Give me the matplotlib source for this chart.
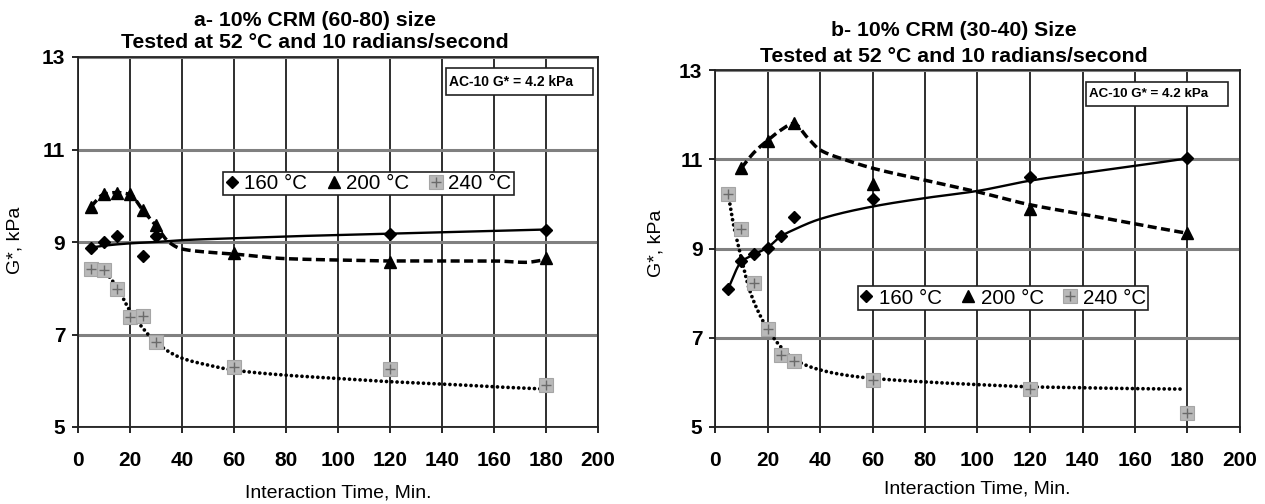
import numpy as np
import matplotlib
matplotlib.use("Agg")
import matplotlib.pyplot as plt
from matplotlib.lines import Line2D
from matplotlib.patches import Rectangle
from matplotlib.legend_handler import HandlerTuple

plt.rcParams['font.family'] = ['Liberation Sans', 'DejaVu Sans']
plt.rcParams['lines.scale_dashes'] = False

# ---------------- measured G* values (kPa) ----------------
# (a) 10% CRM, 60-80 mesh
t_a_160 = [5, 10, 15, 25, 30, 120, 180]
g_a_160 = [8.86, 9.00, 9.14, 8.69, 9.12, 9.18, 9.25]
t_a_200 = [5, 10, 15, 20, 25, 30, 60, 120, 180]
g_a_200 = [9.76, 10.03, 10.07, 10.03, 9.69, 9.36, 8.76, 8.57, 8.66]
t_a_240 = [5, 10, 15, 20, 25, 30, 60, 120, 180]
g_a_240 = [8.42, 8.39, 7.99, 7.37, 7.41, 6.83, 6.30, 6.26, 5.91]

# (b) 10% CRM, 30-40 mesh
t_b_160 = [5, 10, 15, 20, 25, 30, 60, 120, 180]
g_b_160 = [8.10, 8.71, 8.88, 9.02, 9.27, 9.70, 10.10, 10.61, 11.02]
t_b_200 = [10, 20, 30, 60, 120, 180]
g_b_200 = [10.80, 11.42, 11.81, 10.45, 9.89, 9.34]
t_b_240 = [5, 10, 15, 20, 25, 30, 60, 120, 180]
g_b_240 = [10.23, 9.44, 8.22, 7.20, 6.62, 6.47, 6.05, 5.85, 5.31]

# ---------------- trend curves (kPa) ----------------
ft_a_160 = [5, 10, 20, 30, 40, 60, 80, 100, 120, 140, 160, 180]
fg_a_160 = [8.88, 8.92, 8.97, 9.00, 9.04, 9.08, 9.12, 9.15, 9.18, 9.21, 9.24, 9.27]
ft_a_200 = [5, 10, 15, 20, 25, 30, 35, 40, 50, 60, 80, 100, 120, 140, 160, 172, 180]
fg_a_200 = [9.76, 10.03, 10.07, 10.03, 9.69, 9.36, 9.00, 8.85, 8.78, 8.74, 8.64,
            8.61, 8.59, 8.59, 8.59, 8.56, 8.62]
ft_a_240 = [5, 10, 15, 20, 25, 30, 40, 50, 60, 80, 100, 120, 140, 160, 180]
fg_a_240 = [8.42, 8.35, 8.03, 7.52, 7.14, 6.83, 6.49, 6.34, 6.23, 6.12, 6.05,
            5.98, 5.93, 5.87, 5.82]

ft_b_160 = [5, 10, 15, 20, 25, 30, 40, 60, 80, 100, 120, 140, 160, 180]
fg_b_160 = [8.10, 8.70, 8.87, 9.02, 9.27, 9.42, 9.66, 9.94, 10.13, 10.29, 10.52,
            10.69, 10.85, 11.02]
ft_b_200 = [10, 15, 20, 25, 30, 35, 40, 50, 60, 80, 100, 120, 140, 160, 180]
fg_b_200 = [10.80, 11.16, 11.42, 11.65, 11.80, 11.50, 11.21, 10.98, 10.80, 10.53,
            10.27, 9.98, 9.77, 9.55, 9.34]
ft_b_240 = [5, 7, 10, 13, 17, 20, 25, 30, 40, 50, 60, 80, 100, 120, 140, 160, 178]
fg_b_240 = [10.23, 9.55, 8.80, 8.10, 7.52, 7.20, 6.80, 6.52, 6.28, 6.16, 6.09,
            6.01, 5.95, 5.90, 5.88, 5.86, 5.85]

x_ticks = [0, 20, 40, 60, 80, 100, 120, 140, 160, 180, 200]
y_ticks = [5, 7, 9, 11, 13]
legend_labels = ["160 °C", "200 °C", "240 °C"]


def smooth(x, y, num=400):
    """Shape-preserving cubic Hermite curve through the given knots."""
    x = np.asarray(x, float)
    y = np.asarray(y, float)
    h = np.diff(x)
    d = np.diff(y) / h
    m = np.zeros_like(y)
    for k in range(1, len(x) - 1):
        if d[k - 1] * d[k] > 0:
            w1 = 2 * h[k] + h[k - 1]
            w2 = h[k] + 2 * h[k - 1]
            m[k] = (w1 + w2) / (w1 / d[k - 1] + w2 / d[k])
    m[0], m[-1] = d[0], d[-1]
    xs = np.linspace(x[0], x[-1], num)
    i = np.clip(np.searchsorted(x, xs) - 1, 0, len(h) - 1)
    t = (xs - x[i]) / h[i]
    h00 = 2 * t**3 - 3 * t**2 + 1
    h10 = t**3 - 2 * t**2 + t
    h01 = -2 * t**3 + 3 * t**2
    h11 = t**3 - t**2
    ys = h00 * y[i] + h10 * h[i] * m[i] + h01 * y[i + 1] + h11 * h[i] * m[i + 1]
    return xs, ys


W, H = 1265, 504
fig = plt.figure(figsize=(W / 100, H / 100), dpi=100)
fig.patch.set_facecolor("white")


def px_axes(left, right, top, bottom):
    return fig.add_axes([left / W, 1 - bottom / H, (right - left) / W, (bottom - top) / H])


ax_a = px_axes(77.7, 598, 57, 427)
ax_b = px_axes(715, 1240, 70, 427)

diamond = dict(marker="D", ms=5.8, color="black", mec="black", ls="none")
triangle = dict(marker="^", ms=8.8, color="black", mec="black", ls="none")
square = dict(marker="s", ms=9.5, mfc="#b9b9b9", mec="#a5a5a5", mew=0.8, ls="none")
plus = dict(marker="+", ms=6.5, mec="#6a6a6a", mew=1.0, ls="none")

solid_kw = dict(color="black", lw=1.7, solid_capstyle="round")
dash_kw = dict(color="black", lw=2.5, linestyle=(0, (6.5, 3.2)))
dot_kw = dict(color="black", lw=2.7, linestyle=(0, (0.01, 3.8)), dash_capstyle="round")


def draw_panel(ax, series, fits):
    (t160, g160), (t200, g200), (t240, g240) = series
    (f160x, f160y), (f200x, f200y), (f240x, f240y) = fits

    ax.plot(*smooth(f160x, f160y), zorder=3, **solid_kw)
    ax.plot(*smooth(f200x, f200y), zorder=3, **dash_kw)
    ax.plot(*smooth(f240x, f240y), zorder=3, **dot_kw)

    ax.plot(t240, g240, zorder=4, **square)
    ax.plot(t240, g240, zorder=5, **plus)
    ax.plot(t160, g160, zorder=6, **diamond)
    ax.plot(t200, g200, zorder=6, **triangle)

    ax.set_xlim(0, 200)
    ax.set_ylim(5, 13)
    ax.set_xticks(x_ticks)
    ax.set_yticks(y_ticks)
    ax.set_axisbelow(True)
    ax.xaxis.grid(True, color="#1e1e1e", lw=1.3)
    ax.yaxis.grid(True, color="#808080", lw=2.2)
    for s in ax.spines.values():
        s.set_color("#222222")
        s.set_linewidth(1.3)
    ax.tick_params(axis="x", direction="out", length=4, width=1.2, pad=13,
                   labelsize=15, colors="black")
    ax.tick_params(axis="y", direction="out", length=4, width=1.2, pad=5,
                   labelsize=15, colors="black")
    for lbl in ax.get_xticklabels() + ax.get_yticklabels():
        lbl.set_fontweight("bold")


draw_panel(ax_a,
           [(t_a_160, g_a_160), (t_a_200, g_a_200), (t_a_240, g_a_240)],
           [(ft_a_160, fg_a_160), (ft_a_200, fg_a_200), (ft_a_240, fg_a_240)])
draw_panel(ax_b,
           [(t_b_160, g_b_160), (t_b_200, g_b_200), (t_b_240, g_b_240)],
           [(ft_b_160, fg_b_160), (ft_b_200, fg_b_200), (ft_b_240, fg_b_240)])

# axis labels
for ax, xl_y, yl_x, yl_y, top, bottom, left, right in [
        (ax_a, 493, 15, 240, 57, 427, 77.7, 598),
        (ax_b, 489, 656, 243, 70, 427, 715, 1240)]:
    ax.set_xlabel("Interaction Time, Min.", fontsize=14)
    ax.xaxis.set_label_coords(((left + right) / 2 - left) / (right - left),
                              (bottom - xl_y) / (bottom - top))
    ax.xaxis.label.set_va("center")
    ax.set_ylabel("G*, kPa", fontsize=14)
    ax.yaxis.set_label_coords((yl_x - left) / (right - left),
                              (bottom - yl_y) / (bottom - top))
    ax.yaxis.label.set_va("center")

# titles
titles = [
    ("a- 10% CRM (60-80) size", 315, 20, 43),
    ("b- 10% CRM (30-40) Size", 954, 31, 56),
]
for text, cx, y1, y2 in titles:
    fig.text(cx / W, 1 - y1 / H, text, ha="center", va="center",
             fontsize=15.3, fontweight="bold")
    fig.text(cx / W, 1 - y2 / H, "Tested at 52 °C and 10 radians/second",
             ha="center", va="center", fontsize=15.3, fontweight="bold")

# reference binder boxes
for x0, x1, y0, y1, fs in [(446, 593, 68, 95, 10), (1086, 1228, 82, 106, 9.6)]:
    fig.add_artist(Rectangle((x0 / W, 1 - y1 / H), (x1 - x0) / W, (y1 - y0) / H,
                             transform=fig.transFigure, facecolor="white",
                             edgecolor="#222222", lw=1.2, zorder=10))
    fig.text((x0 + 3) / W, 1 - ((y0 + y1) / 2) / H, "AC-10 G* = 4.2 kPa",
             ha="left", va="center", fontsize=fs, fontweight="bold", zorder=11)

# legends
h160 = Line2D([], [], **diamond)
h200 = Line2D([], [], **triangle)
h240 = (Line2D([], [], **square), Line2D([], [], **plus))
for ax, x0, x1, y0, y1 in [(ax_a, 223, 514, 170, 197), (ax_b, 858, 1148, 283, 313)]:
    leg = fig.legend([h160, h200, h240], legend_labels, ncol=3,
                     loc="center", bbox_to_anchor=(((x0 + x1) / 2) / W, 1 - ((y0 + y1) / 2) / H),
                     fontsize=14.8, frameon=True, fancybox=False, shadow=False,
                     borderpad=0.12, handlelength=0.6, handletextpad=0.3,
                     columnspacing=1.0, borderaxespad=0,
                     handler_map={tuple: HandlerTuple(ndivide=1, pad=0)})
    leg.get_frame().set_edgecolor("#222222")
    leg.get_frame().set_linewidth(1.2)
    leg.get_frame().set_alpha(1)
    leg.set_zorder(12)

fig.savefig("out.png", dpi=100, facecolor="white")
